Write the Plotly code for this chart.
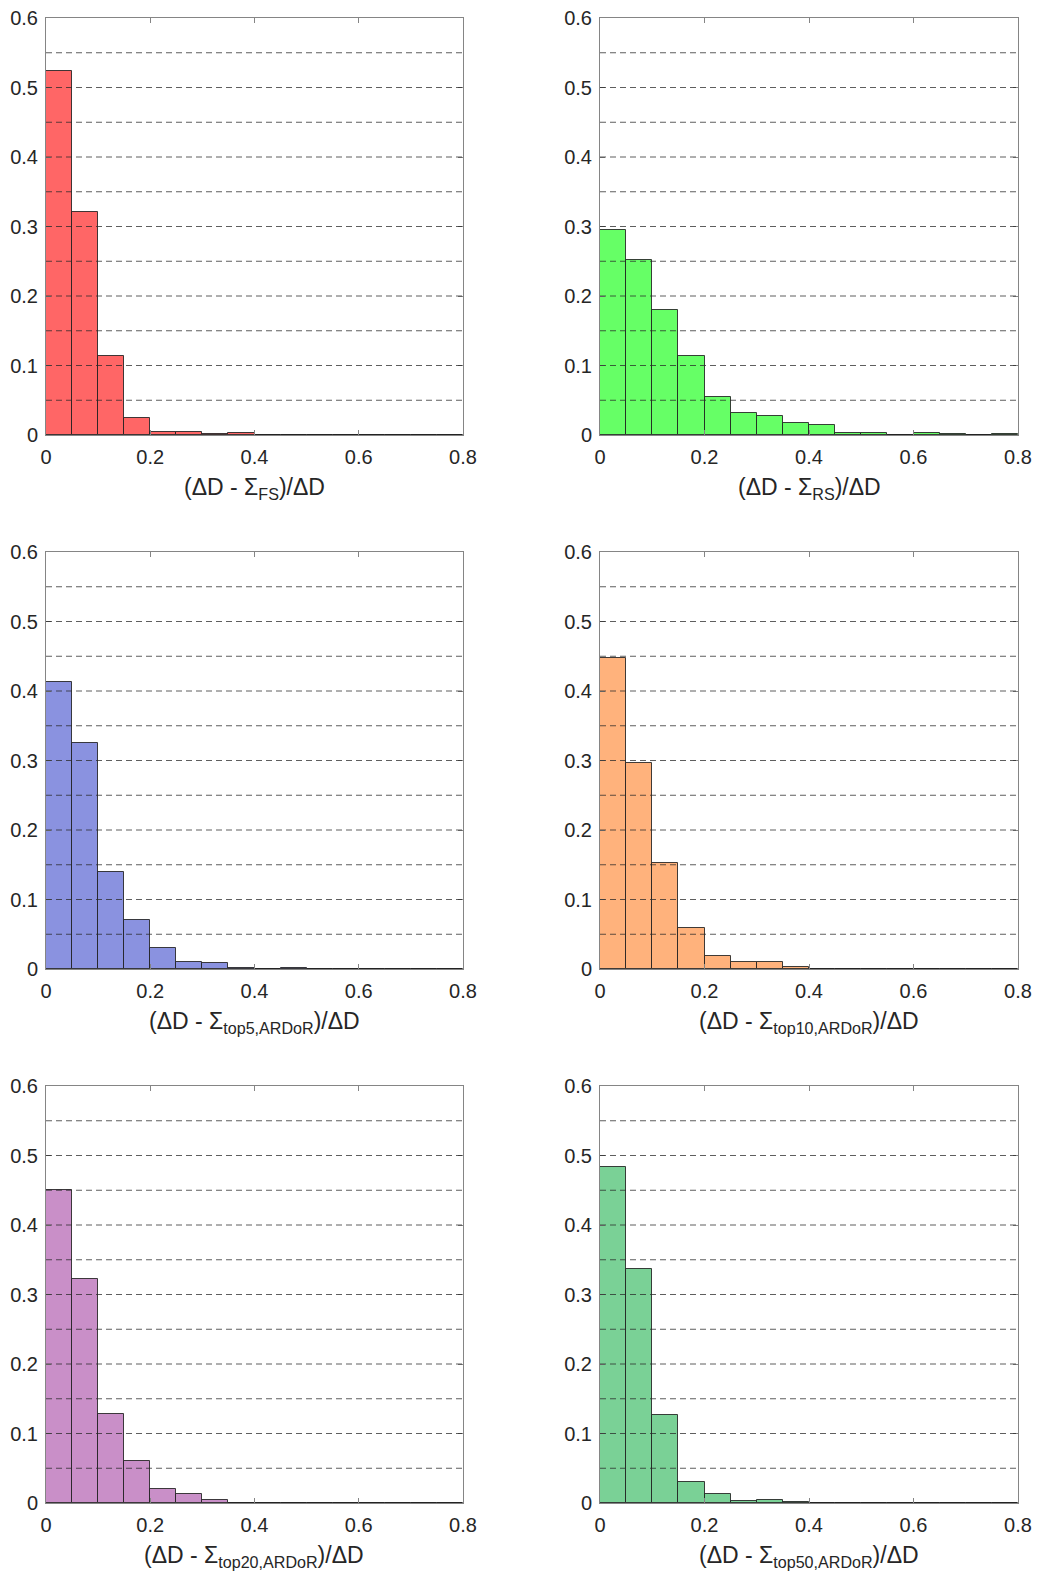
import numpy as np
import plotly.graph_objects as go

# ---------------- data ----------------
bin_edges = [0.00, 0.05, 0.10, 0.15, 0.20, 0.25, 0.30, 0.35, 0.40,
             0.45, 0.50, 0.55, 0.60, 0.65, 0.70, 0.75, 0.80]

fs_vals = [0.524, 0.321, 0.114, 0.024, 0.005, 0.005, 0.0015, 0.0025,
           0, 0, 0, 0, 0, 0, 0, 0]
rs_vals = [0.295, 0.252, 0.180, 0.114, 0.054, 0.032, 0.027, 0.017,
           0.015, 0.0024, 0.0024, 0.0003, 0.0024, 0.001, 0.0002, 0.001]
top5_vals = [0.4125, 0.325, 0.139, 0.071, 0.030, 0.0106, 0.0086, 0.0014,
             0, 0.0014, 0, 0, 0, 0, 0, 0]
top10_vals = [0.4475, 0.296, 0.1525, 0.0595, 0.018, 0.0106, 0.0106, 0.003,
              0, 0, 0, 0, 0, 0, 0, 0]
top20_vals = [0.451, 0.322, 0.1285, 0.060, 0.0206, 0.013, 0.0043, 0,
              0, 0, 0, 0, 0, 0, 0, 0]
top50_vals = [0.483, 0.337, 0.127, 0.0307, 0.0125, 0.003, 0.0043, 0.0014,
              0, 0, 0, 0, 0, 0, 0, 0]

x_labels = [
    "(ΔD - Σ<sub>FS</sub>)/ΔD",
    "(ΔD - Σ<sub>RS</sub>)/ΔD",
    "(ΔD - Σ<sub>top5,ARDoR</sub>)/ΔD",
    "(ΔD - Σ<sub>top10,ARDoR</sub>)/ΔD",
    "(ΔD - Σ<sub>top20,ARDoR</sub>)/ΔD",
    "(ΔD - Σ<sub>top50,ARDoR</sub>)/ΔD",
]
x_ticks = [0, 0.2, 0.4, 0.6, 0.8]
y_ticks = [0, 0.1, 0.2, 0.3, 0.4, 0.5, 0.6]

series = [fs_vals, rs_vals, top5_vals, top10_vals, top20_vals, top50_vals]
colors = ["#FF6666", "#66FF66", "#8A92E0", "#FFB27C", "#C98FC8", "#7AD196"]

# ---------------- layout geometry ----------------
W, H = 1037, 1574
col_px = [(46, 463), (600, 1018)]
row_px = [(18, 435), (552, 969), (1086, 1503)]

edges = np.array(bin_edges)
centers = (edges[:-1] + edges[1:]) / 2
widths = np.diff(edges)

FONT = "Liberation Sans, Arial, Helvetica, sans-serif"
TXT = "#262626"
AX = "#858585"

fig = go.Figure()
layout = dict(
    width=W, height=H,
    margin=dict(l=0, r=0, t=0, b=0),
    paper_bgcolor="white", plot_bgcolor="white",
    showlegend=False,
    font=dict(family=FONT, size=20, color=TXT),
    bargap=0,
)
shapes = []
annotations = []
grid_levels = [round(0.05 * k, 2) for k in range(1, 12)]

for i, vals in enumerate(series):
    r, c = divmod(i, 2)
    xa = "x" if i == 0 else f"x{i+1}"
    ya = "y" if i == 0 else f"y{i+1}"
    xkey = "xaxis" if i == 0 else f"xaxis{i+1}"
    ykey = "yaxis" if i == 0 else f"yaxis{i+1}"
    x0, x1 = col_px[c]
    y0, y1 = row_px[r]
    fig.add_trace(go.Bar(
        x=centers, y=vals, width=widths,
        marker=dict(color=colors[i], line=dict(color="rgba(30,30,30,0.85)", width=1)),
        xaxis=xa, yaxis=ya, hoverinfo="x+y",
    ))
    layout[xkey] = dict(
        domain=[x0 / W, x1 / W], anchor=ya, range=[0, 0.8],
        tickvals=x_ticks, ticktext=[f"{v:g}" for v in x_ticks],
        ticks="inside", ticklen=5, tickcolor=AX, tickwidth=1,
        showline=True, linecolor=AX, linewidth=1, mirror="ticks",
        showgrid=False, zeroline=False, automargin=False,
        tickfont=dict(family=FONT, size=20, color=TXT),
        ticklabelstandoff=4,
    )
    layout[ykey] = dict(
        domain=[1 - y1 / H, 1 - y0 / H], anchor=xa, range=[0, 0.6],
        tickvals=y_ticks, ticktext=[f"{v:g}" for v in y_ticks],
        ticks="inside", ticklen=5, tickcolor=AX, tickwidth=1,
        showline=True, linecolor=AX, linewidth=1, mirror="ticks",
        showgrid=False, zeroline=False, automargin=False,
        tickfont=dict(family=FONT, size=20, color=TXT),
        ticklabelstandoff=3,
    )
    for g in grid_levels:
        shapes.append(dict(
            type="line", xref=f"{xa} domain", yref=ya,
            x0=0, x1=1, y0=g, y1=g, layer="above",
            line=dict(color="rgba(40,40,40,0.75)", width=1, dash="6px,4px"),
        ))
    annotations.append(dict(
        text=x_labels[i], xref=f"{xa} domain", yref=f"{ya} domain",
        x=0.5, y=-(53 / 417), xanchor="center", yanchor="middle",
        showarrow=False, font=dict(family=FONT, size=23, color=TXT),
    ))

layout["shapes"] = shapes
layout["annotations"] = annotations
fig.update_layout(**layout)
fig.write_html(
    "out.html",
    config={"displayModeBar": False},
    post_script="document.body.style.margin='0';document.body.style.overflow='hidden';",
)
